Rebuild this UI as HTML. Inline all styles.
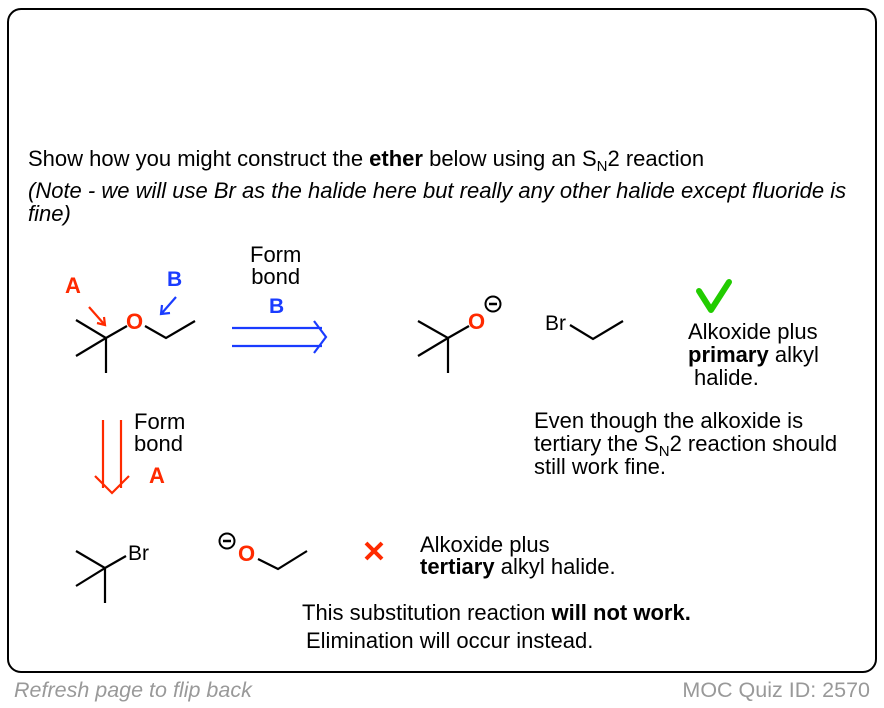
<!DOCTYPE html>
<html><head><meta charset="utf-8"><style>
body{margin:0;width:884px;height:708px;background:#fff;font-family:"Liberation Sans",Arial,sans-serif;position:relative;overflow:hidden}
.t{position:absolute;font-size:22px;line-height:23px;color:#000;white-space:nowrap}
.box{position:absolute;left:7px;top:8px;width:866px;height:661px;border:2px solid #000;border-radius:14px}
sub{font-size:15px;vertical-align:-5px;line-height:0}
svg{position:absolute;left:0;top:0}
</style></head><body>
<div class="box"></div>
<div class="t" style="left:28px;top:147px">Show how you might construct the <b>ether</b> below using an S<sub>N</sub>2 reaction</div>
<div class="t" style="left:28px;top:179px;font-style:italic">(Note - we will use Br as the halide here but really any other halide except fluoride is</div>
<div class="t" style="left:28px;top:202px;font-style:italic">fine)</div>
<div class="t" style="left:250px;top:244px;text-align:center;line-height:22px">Form<br>bond</div>
<div class="t" style="left:134px;top:411px;line-height:22px">Form<br>bond</div>
<div class="t" style="left:688px;top:320px">Alkoxide plus</div>
<div class="t" style="left:688px;top:343px"><b>primary</b> alkyl</div>
<div class="t" style="left:694px;top:366px">halide.</div>
<div class="t" style="left:534px;top:409px">Even though the alkoxide is</div>
<div class="t" style="left:534px;top:432px">tertiary the S<sub>N</sub>2 reaction should</div>
<div class="t" style="left:534px;top:455px">still work fine.</div>
<div class="t" style="left:420px;top:533px">Alkoxide plus</div>
<div class="t" style="left:420px;top:555px"><b>tertiary</b> alkyl halide.</div>
<div class="t" style="left:302px;top:601px">This substitution reaction <b>will not work.</b></div>
<div class="t" style="left:306px;top:629px">Elimination will occur instead.</div>
<div class="t" style="left:14px;top:679px;color:#999;font-style:italic;font-size:21.5px">Refresh page to flip back</div>
<div class="t" style="right:14px;top:679px;color:#999;font-size:21.5px">MOC Quiz ID: 2570</div>
<svg width="884" height="708" viewBox="0 0 884 708" font-family="Liberation Sans,Arial,sans-serif">
<g stroke="#000" stroke-width="2.2" fill="none">
<path d="M76 320L106 338L76 356M106 338V373M106 338L127 326M145 326L166 338L195 321"/>
<path d="M418 321L448 338L418 356M448 338V373M448 338L469 326"/>
<path d="M570 325L593 339L623 321"/>
<path d="M76 551L105 568L76 586M105 568V603M105 568L126 556"/>
<path d="M258 559L278 569L307 551"/>
</g>
<g font-weight="bold" font-size="22" fill="#ff2a00">
<text x="126" y="329">O</text>
<text x="468" y="329">O</text>
<text x="238" y="561">O</text>
<text x="65" y="293">A</text>
<text x="149" y="483">A</text>
</g>
<g font-size="21" fill="#000"><text x="545" y="330">Br</text><text x="128" y="560">Br</text></g>
<g font-weight="bold" font-size="21" fill="#1a3cff"><text x="167" y="286">B</text><text x="269" y="313">B</text></g>
<g stroke="#000" stroke-width="2" fill="none"><circle cx="493" cy="304" r="7.5"/><path d="M489 304h8" stroke-width="2.5"/><circle cx="227" cy="541" r="7.5"/><path d="M223 541h8" stroke-width="2.5"/></g>
<g stroke="#ff2a00" stroke-width="2.2" fill="none">
<path d="M89 307L104 324M97 323L105 325L104 317"/>
<path d="M103 420V488M121 420V488M95 476L112 493L129 476"/>
<path d="M366 543L382 559M382 543L366 559" stroke-width="4"/>
</g>
<g stroke="#1a3cff" stroke-width="2.2" fill="none">
<path d="M176 297L162 313M162 305L161 314L170 313"/>
<path d="M232 328H322M232 346H322M314 321L326 337L314 353"/>
</g>
<path d="M699 291L711 310L729 282" stroke="#22cc00" stroke-width="6" fill="none" stroke-linecap="round" stroke-linejoin="round"/>
</svg>
</body></html>
